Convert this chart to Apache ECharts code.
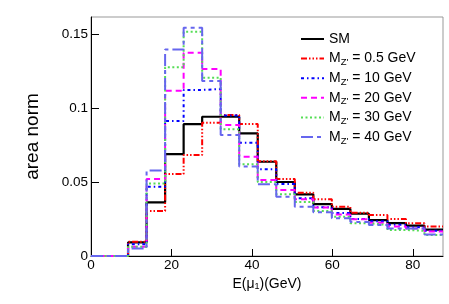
<!DOCTYPE html>
<html>
<head>
<meta charset="utf-8">
<script src="https://cdn.jsdelivr.net/npm/echarts@6/dist/echarts.min.js"></script>
<style>html,body{margin:0;padding:0;background:#fff}#c{width:449px;height:304px}</style>
</head>
<body>
<div id="c"></div>
<script>
// Histogram binning (19 bins from 0 to 87.5 GeV)
var nBins = 19;
var xMax = 87.5;
var xTicks = [0, 20, 40, 60, 80];
var yTicks = [0, 0.05, 0.1, 0.15];

var seriesNames = ['SM', "M{sub|Z'} = 0.5 GeV", "M{sub|Z'} = 10 GeV", "M{sub|Z'} = 20 GeV", "M{sub|Z'} = 30 GeV", "M{sub|Z'} = 40 GeV"];

var sm     = [0, 0, 0.0092, 0.0363, 0.0689, 0.0891, 0.0941, 0.0941, 0.0829, 0.0637, 0.0500, 0.0417, 0.0351, 0.0318, 0.0286, 0.0243, 0.0222, 0.0205, 0.0178];
var mz0p5  = [0, 0, 0.0097, 0.0304, 0.0554, 0.0682, 0.0901, 0.0953, 0.0892, 0.0640, 0.0520, 0.0428, 0.0383, 0.0333, 0.0292, 0.0277, 0.0250, 0.0221, 0.0200];
var mz10   = [0, 0, 0.0079, 0.0468, 0.0912, 0.1122, 0.1128, 0.0950, 0.0766, 0.0586, 0.0486, 0.0390, 0.0330, 0.0290, 0.0250, 0.0235, 0.0212, 0.0195, 0.0170];
var mz20   = [0, 0, 0.0063, 0.0520, 0.1117, 0.1374, 0.1264, 0.0885, 0.0671, 0.0514, 0.0446, 0.0383, 0.0327, 0.0280, 0.0248, 0.0225, 0.0200, 0.0185, 0.0165];
var mz30   = [0, 0, 0.0063, 0.0490, 0.1275, 0.1516, 0.1205, 0.0856, 0.0620, 0.0500, 0.0417, 0.0365, 0.0304, 0.0266, 0.0221, 0.0210, 0.0176, 0.0170, 0.0142];
var mz40   = [0, 0, 0.0050, 0.0577, 0.1396, 0.1543, 0.1182, 0.0818, 0.0604, 0.0484, 0.0400, 0.0333, 0.0295, 0.0255, 0.0230, 0.0210, 0.0185, 0.0185, 0.0145];

var allValues = [sm, mz0p5, mz10, mz20, mz30, mz40];
var colors = ['#000000', '#ff0000', '#0000ff', '#ff00ff', '#55dd55', '#6666ee'];
var dashes = ['solid', [6, 2, 1.5, 2, 1.5, 2, 1.5, 2], [3, 3, 1.5, 3], [6, 4], [2, 2.5], [12, 4, 4, 4]];
var widths = [2.2, 2, 2, 2, 2, 2];

var binW = xMax / nBins;
function histData(vals) {
  var d = [];
  for (var i = 0; i < vals.length; i++) d.push([i * binW, vals[i]]);
  d.push([xMax, vals[vals.length - 1]]);
  return d;
}

var font = 'Liberation Sans, Arial, Helvetica, sans-serif';
var chart = echarts.init(document.getElementById('c'), null, {renderer: 'canvas'});

var series = allValues.map(function (v, k) {
  return {
    name: seriesNames[k],
    type: 'line',
    step: 'end',
    symbol: 'none',
    data: histData(v),
    lineStyle: {color: colors[k], width: widths[k], type: dashes[k]},
    itemStyle: {color: colors[k]},
    z: 3 + k
  };
});

chart.setOption({
  animation: false,
  backgroundColor: '#fff',
  grid: {left: 91, right: 6, top: 17, bottom: 48, show: true, borderColor: '#999', borderWidth: 1, backgroundColor: '#fff'},
  legend: {
    orient: 'vertical', left: 300, top: 30, itemWidth: 23, itemHeight: 14, itemGap: 1.6,
    padding: 0, selectedMode: false,
    itemStyle: {opacity: 0},
    data: seriesNames,
    textStyle: {
      fontFamily: font, fontSize: 14, color: '#000', lineHeight: 18,
      rich: {sub: {fontFamily: font, fontSize: 9.5, lineHeight: 9, verticalAlign: 'bottom', color: '#000'}}
    }
  },
  xAxis: {
    type: 'value', min: 0, max: xMax,
    name: 'E(μ{sub|1})(GeV)', nameLocation: 'middle', nameGap: 21,
    nameTextStyle: {fontFamily: font, fontSize: 14, color: '#000',
      rich: {sub: {fontFamily: font, fontSize: 9, lineHeight: 7, verticalAlign: 'bottom', color: '#000'}}},
    axisLine: {show: true, lineStyle: {color: '#000', width: 1}},
    axisTick: {show: true, inside: true, length: 7, customValues: xTicks, lineStyle: {color: '#000'}},
    axisLabel: {customValues: xTicks, fontFamily: font, fontSize: 13.5, color: '#000', margin: 2},
    splitLine: {show: false}
  },
  yAxis: {
    type: 'value', min: 0, max: 0.1615,
    name: 'area norm', nameLocation: 'middle', nameGap: 49,
    nameTextStyle: {fontFamily: font, fontSize: 19, color: '#000'},
    axisLine: {show: true, lineStyle: {color: '#000', width: 1}},
    axisTick: {show: true, inside: true, length: 8, customValues: yTicks, lineStyle: {color: '#000'}},
    axisLabel: {customValues: yTicks, fontFamily: font, fontSize: 13.5, color: '#000', margin: 3},
    splitLine: {show: false}
  },
  series: series
});
</script>
</body>
</html>
